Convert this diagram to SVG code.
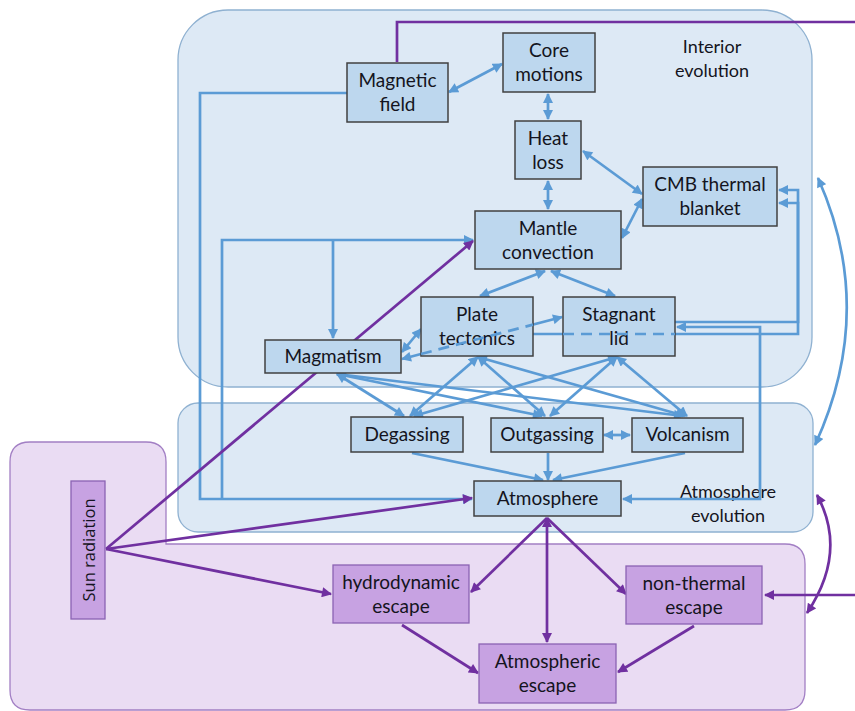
<svg xmlns="http://www.w3.org/2000/svg" width="855" height="711" viewBox="0 0 855 711">
<defs>
<style>
.region{fill:#dde9f5;stroke:#8fb1d1;stroke-width:1.3}
.pregion{fill:#eadcf3;stroke:#a27fc4;stroke-width:1.3}
.node rect{fill:#bdd7ee;stroke:#404040;stroke-width:1.5}
.pnode rect{fill:#c7a2e2;stroke:#8b63b3;stroke-width:1.3}
text{font-family:Lato,"Liberation Sans",sans-serif;font-size:19px;fill:#141420;text-anchor:middle}
.lbl{font-size:18px}
.sun{font-family:"Open Sans","DejaVu Sans",sans-serif;font-size:16.5px}
.b{fill:none;stroke:#5b9bd5;stroke-width:2.7}
.bd{fill:none;stroke:#5b9bd5;stroke-width:2.7;stroke-dasharray:11 7}
.p{fill:none;stroke:#7030a0;stroke-width:2.7}
</style>
<marker id="ab" viewBox="0 0 10 10" refX="9" refY="5" markerWidth="11" markerHeight="10" markerUnits="userSpaceOnUse" orient="auto-start-reverse"><path d="M0,0 L10,5 L0,10 z" fill="#5b9bd5"/></marker>
<marker id="ap" viewBox="0 0 10 10" refX="9" refY="5" markerWidth="11" markerHeight="10" markerUnits="userSpaceOnUse" orient="auto-start-reverse"><path d="M0,0 L10,5 L0,10 z" fill="#7030a0"/></marker>
</defs>
<rect width="855" height="711" fill="#ffffff"/>
<g id="regions">
<rect id="interior-evolution" class="region" x="178" y="10" width="634" height="377" rx="50"/>
<rect id="atmosphere-evolution" class="region" x="178" y="403" width="635" height="129" rx="20"/>
<path id="escape-region" class="pregion" d="M30,442 H146 Q166,442 166,462 V544 H785 Q805,544 805,564 V690 Q805,710 785,710 H30 Q10,710 10,690 V462 Q10,442 30,442 Z"/>
<text class="lbl" x="712" y="53">Interior</text>
<text class="lbl" x="712" y="77">evolution</text>
<text class="lbl" x="728" y="498">Atmosphere</text>
<text class="lbl" x="728" y="522">evolution</text>
</g>
<g id="connectors">
<path class="b" d="M449,92 L502,64" marker-start="url(#ab)" marker-end="url(#ab)"/>
<path class="b" d="M548,94 V119" marker-start="url(#ab)" marker-end="url(#ab)"/>
<path class="b" d="M548,181 V209" marker-start="url(#ab)" marker-end="url(#ab)"/>
<path class="b" d="M583,151 L642,194" marker-start="url(#ab)" marker-end="url(#ab)"/>
<path class="b" d="M622,238 L642,199" marker-start="url(#ab)" marker-end="url(#ab)"/>
<path class="b" d="M545,271 L480,296" marker-start="url(#ab)" marker-end="url(#ab)"/>
<path class="b" d="M551,271 L615,296" marker-start="url(#ab)" marker-end="url(#ab)"/>
<path class="b" d="M347,93 H200 V499 H472" marker-end="url(#ab)"/>
<path class="b" d="M222,499 V240 H473" marker-end="url(#ab)"/>
<path class="b" d="M333,240 V338" marker-end="url(#ab)"/>
<path class="b" d="M402,352 L421,329" marker-start="url(#ab)" marker-end="url(#ab)"/>
<path class="b" d="M402,359 L562,317" marker-start="url(#ab)" marker-end="url(#ab)"/>
<path class="b" d="M533,334 H798 V190 H779" marker-end="url(#ab)"/>
<path class="b" d="M675,322 H798 V203 H779" marker-end="url(#ab)"/>
<path class="b" d="M677,327 H760 V499 H623" marker-start="url(#ab)" marker-end="url(#ab)"/>
<path class="b" d="M337,374 L404,416" marker-start="url(#ab)" marker-end="url(#ab)"/>
<path class="b" d="M337,374 L542,416" marker-start="url(#ab)" marker-end="url(#ab)"/>
<path class="b" d="M337,374 L683,416" marker-start="url(#ab)" marker-end="url(#ab)"/>
<path class="b" d="M478,357 L410,416" marker-start="url(#ab)" marker-end="url(#ab)"/>
<path class="b" d="M478,357 L545,416" marker-start="url(#ab)" marker-end="url(#ab)"/>
<path class="b" d="M478,357 L685,416" marker-start="url(#ab)" marker-end="url(#ab)"/>
<path class="b" d="M617,357 L414,416" marker-start="url(#ab)" marker-end="url(#ab)"/>
<path class="b" d="M617,357 L550,416" marker-start="url(#ab)" marker-end="url(#ab)"/>
<path class="b" d="M617,357 L687,416" marker-start="url(#ab)" marker-end="url(#ab)"/>
<path class="b" d="M604,435 H630" marker-start="url(#ab)" marker-end="url(#ab)"/>
<path class="b" d="M412,453 L543,480" marker-end="url(#ab)"/>
<path class="b" d="M548,453 V480" marker-end="url(#ab)"/>
<path class="b" d="M685,453 L553,480" marker-end="url(#ab)"/>
<path class="b" d="M818,178 Q877,310 815,445" marker-start="url(#ab)" marker-end="url(#ab)"/>
<path class="p" d="M106,549 L473,241" marker-end="url(#ap)"/>
<path class="p" d="M106,549 L472,498" marker-end="url(#ap)"/>
<path class="p" d="M106,549 L331,594" marker-end="url(#ap)"/>
<path class="p" d="M547,518 V642" marker-start="url(#ap)" marker-end="url(#ap)"/>
<path class="p" d="M547,518 L471,592" marker-end="url(#ap)"/>
<path class="p" d="M547,518 L626,594" marker-end="url(#ap)"/>
<path class="p" d="M402,625 L478,673" marker-end="url(#ap)"/>
<path class="p" d="M694,626 L618,672" marker-end="url(#ap)"/>
<path class="p" d="M397,62 V22 H855"/>
<path class="p" d="M855,595 H765" marker-end="url(#ap)"/>
<path class="p" d="M817,495 Q848,552 807,613" marker-start="url(#ap)" marker-end="url(#ap)"/>
</g>
<g id="node-magnetic-field" class="node"><rect x="347" y="63" width="101" height="59"/><text x="397.5" y="87">Magnetic</text><text x="397.5" y="111">field</text></g>
<g id="node-core-motions" class="node"><rect x="503" y="33" width="92" height="59"/><text x="549" y="57">Core</text><text x="549" y="81">motions</text></g>
<g id="node-heat-loss" class="node"><rect x="515" y="121" width="66" height="58"/><text x="548" y="145">Heat</text><text x="548" y="169">loss</text></g>
<g id="node-cmb" class="node"><rect x="643" y="167" width="134" height="59"/><text x="710" y="191">CMB thermal</text><text x="710" y="215">blanket</text></g>
<g id="node-mantle-convection" class="node"><rect x="475" y="211" width="146" height="58"/><text x="548" y="235">Mantle</text><text x="548" y="259">convection</text></g>
<g id="node-plate-tectonics" class="node"><rect x="421" y="297" width="112" height="59"/><text x="477" y="321">Plate</text><text x="477" y="345">tectonics</text></g>
<g id="node-stagnant-lid" class="node"><rect x="563" y="297" width="112" height="59"/><text x="619" y="321">Stagnant</text><text x="619" y="345">lid</text></g>
<g id="node-magmatism" class="node"><rect x="265" y="340" width="136" height="33"/><text x="333" y="363">Magmatism</text></g>
<g id="node-degassing" class="node"><rect x="351" y="417" width="112" height="35"/><text x="407" y="441">Degassing</text></g>
<g id="node-outgassing" class="node"><rect x="491" y="418" width="112" height="34"/><text x="547" y="441">Outgassing</text></g>
<g id="node-volcanism" class="node"><rect x="632" y="418" width="111" height="34"/><text x="687.5" y="441">Volcanism</text></g>
<g id="node-atmosphere" class="node"><rect x="474" y="481" width="147" height="35"/><text x="547.5" y="505">Atmosphere</text></g>
<g id="node-sun-radiation" class="pnode"><rect x="71" y="481" width="34" height="138"/><text class="sun" transform="translate(95,550) rotate(-90)" x="0" y="0">Sun radiation</text></g>
<g id="node-hydrodynamic-escape" class="pnode"><rect x="333" y="565" width="136" height="58"/><text x="401" y="589">hydrodynamic</text><text x="401" y="613">escape</text></g>
<g id="node-non-thermal-escape" class="pnode"><rect x="626" y="566" width="136" height="58"/><text x="694" y="590">non-thermal</text><text x="694" y="614">escape</text></g>
<g id="node-atmospheric-escape" class="pnode"><rect x="479" y="644" width="137" height="59"/><text x="547.5" y="668">Atmospheric</text><text x="547.5" y="692">escape</text></g>
<g id="dashed-overlays">
<path class="bd" d="M421,354 L533,324.6"/>
<path class="bd" d="M563,334 H675"/>
</g>
</svg>
